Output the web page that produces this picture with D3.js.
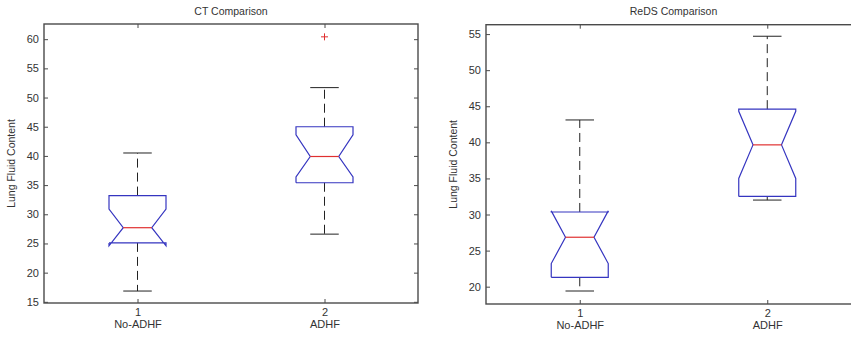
<!DOCTYPE html>
<meta charset="utf-8">
<style>
    body { margin: 0; background: #fff; }
    text { font-family: Arial, "Liberation Sans", sans-serif; fill: #333; }
</style>
<body>
<script src="https://cdn.jsdelivr.net/npm/d3@7"></script>
<script>

    var width = 851;
    var height = 337;

    // data
    var groupIds = [1, 2];
    var groupNames = ["No-ADHF", "ADHF"];

    var ctWhiskerLow = [16.85, 26.6];
    var ctQ1 = [25.1, 35.4];
    var ctMedian = [27.7, 39.9];
    var ctQ3 = [33.2, 45.0];
    var ctWhiskerHigh = [40.5, 51.7];
    var ctNotchLow = [24.6, 36.4];
    var ctNotchHigh = [30.9, 43.6];
    var ctOutliers = [[], [60.4]];
    var ctTicks = [15, 20, 25, 30, 35, 40, 45, 50, 55, 60];

    var redsWhiskerLow = [19.4, 32.0];
    var redsQ1 = [21.3, 32.5];
    var redsMedian = [26.85, 39.65];
    var redsQ3 = [30.35, 44.6];
    var redsWhiskerHigh = [43.1, 54.7];
    var redsNotchLow = [23.2, 35.0];
    var redsNotchHigh = [30.5, 44.3];
    var redsOutliers = [[], []];
    var redsTicks = [20, 25, 30, 35, 40, 45, 50, 55];

    function buildBoxes(lo, q1, med, q3, hi, nlo, nhi, out) {
        return groupIds.map(function (id, i) {
            return {
                id: id, name: groupNames[i],
                lo: lo[i], q1: q1[i], med: med[i], q3: q3[i], hi: hi[i],
                nlo: nlo[i], nhi: nhi[i], out: out[i]
            };
        });
    }

    var svg = d3.select("body").append("svg")
        .attr("width", width)
        .attr("height", height);

    var BOX_HALF = 28.5;
    var FRAME = "#4a4a4a";

    function drawPanel(opts) {
        var x = d3.scaleLinear().domain([0.5, 2.5]).range([opts.left, opts.right]);
        var y = d3.scaleLinear().domain(opts.yDomain).range([opts.bottom, opts.top]);
        var g = svg.append("g");

        /////////////////////////////////
        // AXES
        /////////////////////////////////

        var yAxis = d3.axisLeft(y).tickValues(opts.ticks).tickSize(-4).tickPadding(5).tickFormat(d3.format("d"));
        var gy = g.append("g").attr("transform", "translate(" + opts.left + ",0)").call(yAxis);
        gy.select(".domain").remove();
        gy.selectAll("line").attr("stroke", FRAME);
        gy.selectAll("text").style("font-size", "11px").attr("fill", "#333");

        var gyr = g.append("g").attr("transform", "translate(" + opts.right + ",0)")
            .call(d3.axisRight(y).tickValues(opts.ticks).tickSize(-4).tickFormat(""));
        gyr.select(".domain").remove();
        gyr.selectAll("line").attr("stroke", FRAME);

        var gx = g.append("g").attr("transform", "translate(0," + opts.bottom + ")")
            .call(d3.axisBottom(x).tickValues(groupIds).tickSize(-4).tickPadding(5).tickFormat(d3.format("d")));
        gx.select(".domain").remove();
        gx.selectAll("line").attr("stroke", FRAME);
        gx.selectAll(".tick text").style("font-size", "11px").attr("fill", "#333");
        gx.selectAll(".tick").append("text")
            .attr("y", 17)
            .attr("dy", "0.71em")
            .attr("text-anchor", "middle")
            .style("font-size", "11px")
            .text(function (d) { return groupNames[d - 1]; });

        var gxt = g.append("g").attr("transform", "translate(0," + opts.top + ")")
            .call(d3.axisTop(x).tickValues(groupIds).tickSize(-4).tickFormat(""));
        gxt.select(".domain").remove();
        gxt.selectAll("line").attr("stroke", FRAME);

        g.append("rect")
            .attr("x", opts.left).attr("y", opts.top)
            .attr("width", opts.right - opts.left)
            .attr("height", opts.bottom - opts.top)
            .attr("fill", "none")
            .attr("stroke", FRAME)
            .attr("stroke-width", 1.4);

        g.append("text")
            .attr("x", (opts.left + opts.right) / 2)
            .attr("y", 15)
            .attr("text-anchor", "middle")
            .style("font-size", "10.5px")
            .text(opts.title);

        g.append("text")
            .attr("transform", "translate(" + opts.labelX + "," + ((opts.top + opts.bottom) / 2) + ") rotate(-90)")
            .attr("text-anchor", "middle")
            .style("font-size", "10.5px")
            .text("Lung Fluid Content");

        /////////////////////////////////
        // BOXES
        /////////////////////////////////

        var box = g.selectAll("g.box").data(opts.boxes).enter().append("g").attr("class", "box");

        // whiskers
        box.append("line")
            .attr("x1", function (d) { return x(d.id); })
            .attr("x2", function (d) { return x(d.id); })
            .attr("y1", function (d) { return y(d.q3); })
            .attr("y2", function (d) { return y(d.hi); })
            .attr("stroke", "#222").attr("stroke-dasharray", "9,5");
        box.append("line")
            .attr("x1", function (d) { return x(d.id); })
            .attr("x2", function (d) { return x(d.id); })
            .attr("y1", function (d) { return y(d.q1); })
            .attr("y2", function (d) { return y(d.lo); })
            .attr("stroke", "#222").attr("stroke-dasharray", "9,5");
        ["lo", "hi"].forEach(function (k) {
            box.append("line")
                .attr("x1", function (d) { return x(d.id) - BOX_HALF / 2; })
                .attr("x2", function (d) { return x(d.id) + BOX_HALF / 2; })
                .attr("y1", function (d) { return y(d[k]); })
                .attr("y2", function (d) { return y(d[k]); })
                .attr("stroke", "#222");
        });

        // notched box outline
        box.append("path")
            .attr("d", function (d) {
                var c = x(d.id), l = c - BOX_HALF, r = c + BOX_HALF;
                var nl = c - BOX_HALF / 2, nr = c + BOX_HALF / 2;
                var pts = [
                    [l, y(d.q1)], [l, y(d.nlo)], [nl, y(d.med)], [l, y(d.nhi)], [l, y(d.q3)],
                    [r, y(d.q3)], [r, y(d.nhi)], [nr, y(d.med)], [r, y(d.nlo)], [r, y(d.q1)], [l, y(d.q1)]
                ];
                return d3.line()(pts);
            })
            .attr("fill", "none")
            .attr("stroke", "#3535c0")
            .attr("stroke-width", 1.2);

        // median
        box.append("line")
            .attr("x1", function (d) { return x(d.id) - BOX_HALF / 2; })
            .attr("x2", function (d) { return x(d.id) + BOX_HALF / 2; })
            .attr("y1", function (d) { return y(d.med); })
            .attr("y2", function (d) { return y(d.med); })
            .attr("stroke", "#e03030").attr("stroke-width", 1.2);

        // outliers
        box.each(function (d) {
            d3.select(this).selectAll("path.out").data(d.out).enter().append("path")
                .attr("class", "out")
                .attr("d", function (v) {
                    var cx = x(d.id), cy = y(v);
                    return "M" + (cx - 3.5) + "," + cy + "H" + (cx + 3.5) + "M" + cx + "," + (cy - 3.5) + "V" + (cy + 3.5);
                })
                .attr("stroke", "#e03030");
        });
    }

    drawPanel({
        title: "CT Comparison",
        left: 44, right: 418, top: 24, bottom: 303, labelX: 15,
        yDomain: [14.8, 62.6], ticks: ctTicks,
        boxes: buildBoxes(ctWhiskerLow, ctQ1, ctMedian, ctQ3, ctWhiskerHigh, ctNotchLow, ctNotchHigh, ctOutliers)
    });

    drawPanel({
        title: "ReDS Comparison",
        left: 486, right: 861, top: 24.7, bottom: 304, labelX: 457,
        yDomain: [17.6, 56.3], ticks: redsTicks,
        boxes: buildBoxes(redsWhiskerLow, redsQ1, redsMedian, redsQ3, redsWhiskerHigh, redsNotchLow, redsNotchHigh, redsOutliers)
    });

</script>
</body>
</html>
